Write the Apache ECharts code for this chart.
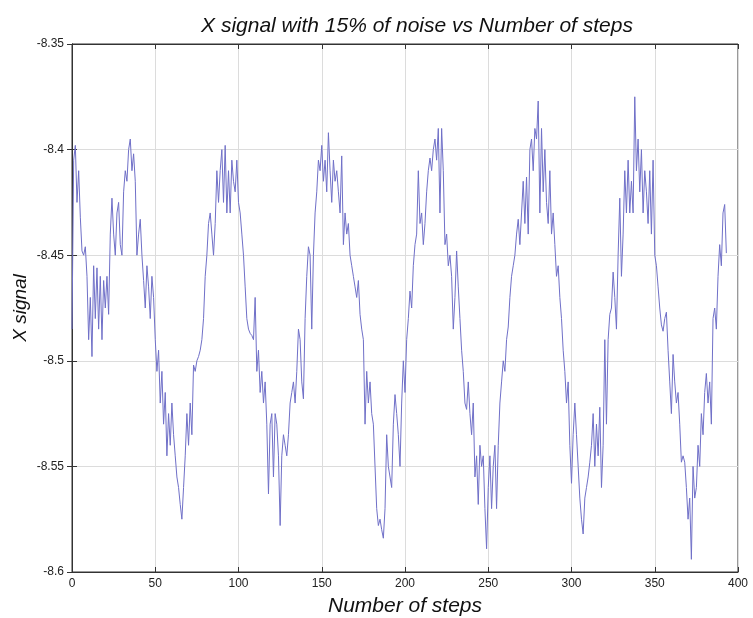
<!DOCTYPE html>
<html lang="en">
  <head>
    <meta charset="UTF-8" />
    <script src="https://cdn.jsdelivr.net/npm/echarts@6/dist/echarts.min.js"></script>
    <style>
      html,
      body {
        margin: 0;
        overflow: hidden;
        background: #fff;
      }
      #viewport {
        position: absolute;
        left: 0px;
        top: 0px;
        width: 753px;
        height: 618px;
      }
    </style>
  </head>
  <body>
    <div id="viewport"></div>
    <script>
      // x signal, one value per step (0..393)
      var xSignal = [
        -8.485, -8.405, -8.398, -8.425, -8.41, -8.432, -8.448, -8.45, -8.446, -8.46,
        -8.49, -8.47, -8.498, -8.455, -8.48, -8.456, -8.485, -8.46, -8.49, -8.462,
        -8.475, -8.46, -8.478, -8.44, -8.423, -8.44, -8.45, -8.43, -8.425, -8.445,
        -8.45, -8.42, -8.41, -8.415, -8.4, -8.395, -8.41, -8.402, -8.415, -8.45,
        -8.44, -8.433, -8.45, -8.462, -8.475, -8.455, -8.465, -8.48, -8.46, -8.47,
        -8.49, -8.505, -8.495, -8.52, -8.505, -8.53, -8.515, -8.545, -8.525, -8.54,
        -8.52, -8.535, -8.545, -8.555, -8.56, -8.568, -8.575, -8.56, -8.545, -8.525,
        -8.54, -8.52, -8.535, -8.502, -8.505, -8.5, -8.498, -8.495, -8.49, -8.48,
        -8.46, -8.45, -8.435, -8.43, -8.44, -8.45, -8.435, -8.41, -8.425, -8.41,
        -8.4, -8.425, -8.398, -8.43, -8.41, -8.43, -8.405, -8.415, -8.42, -8.405,
        -8.425, -8.43, -8.44, -8.45, -8.465, -8.48, -8.485, -8.487, -8.488, -8.49,
        -8.47, -8.505, -8.495, -8.515, -8.505, -8.52, -8.51, -8.53, -8.563, -8.53,
        -8.525, -8.555, -8.525, -8.53, -8.545, -8.578, -8.545, -8.535, -8.54, -8.545,
        -8.535, -8.52, -8.515, -8.51, -8.52, -8.505, -8.485, -8.49, -8.51, -8.518,
        -8.48, -8.46, -8.446, -8.45, -8.485, -8.45, -8.43, -8.42, -8.405, -8.41,
        -8.398, -8.415, -8.405, -8.42, -8.392, -8.41, -8.425, -8.405, -8.415, -8.41,
        -8.42, -8.43, -8.403, -8.445, -8.43, -8.44, -8.435, -8.45, -8.455, -8.46,
        -8.465, -8.47, -8.462, -8.478, -8.485, -8.49, -8.53, -8.505, -8.52, -8.51,
        -8.525, -8.53, -8.55, -8.57, -8.578, -8.575, -8.58, -8.584, -8.57, -8.535,
        -8.55, -8.555, -8.56, -8.53, -8.516, -8.525, -8.535, -8.55, -8.52, -8.5,
        -8.515, -8.49, -8.48, -8.467, -8.475, -8.455, -8.445, -8.44, -8.41, -8.435,
        -8.43, -8.445, -8.435, -8.42, -8.41, -8.404, -8.41, -8.4, -8.395, -8.405,
        -8.39, -8.43, -8.39, -8.41, -8.445, -8.44, -8.455, -8.45, -8.46, -8.485,
        -8.47, -8.448, -8.465, -8.48, -8.495, -8.505, -8.52, -8.523, -8.51, -8.525,
        -8.535, -8.52, -8.555, -8.545, -8.568, -8.54, -8.55, -8.545, -8.57, -8.589,
        -8.56, -8.545, -8.57, -8.55, -8.54, -8.57, -8.54, -8.52, -8.51, -8.5,
        -8.505, -8.49, -8.484, -8.47, -8.46, -8.455, -8.45, -8.44, -8.433, -8.445,
        -8.43, -8.415, -8.435, -8.413, -8.44, -8.4, -8.395, -8.41, -8.39, -8.395,
        -8.377, -8.43, -8.39, -8.42, -8.4, -8.425, -8.435, -8.41, -8.44, -8.43,
        -8.445, -8.46, -8.455, -8.47, -8.48, -8.495, -8.505, -8.52, -8.51, -8.54,
        -8.558, -8.535, -8.52, -8.535, -8.55, -8.565, -8.575, -8.582, -8.565, -8.56,
        -8.555, -8.548, -8.54, -8.525, -8.55, -8.53, -8.545, -8.522, -8.56, -8.54,
        -8.49, -8.53, -8.49, -8.478, -8.475, -8.458, -8.47, -8.485, -8.45, -8.423,
        -8.46, -8.44, -8.41, -8.43, -8.405, -8.43, -8.415, -8.43, -8.375, -8.41,
        -8.395, -8.42, -8.4, -8.43, -8.41, -8.42, -8.435, -8.41, -8.44, -8.405,
        -8.45, -8.455, -8.465, -8.475, -8.483, -8.486, -8.48, -8.477, -8.495, -8.51,
        -8.525, -8.497, -8.51, -8.52, -8.515, -8.53, -8.548, -8.545, -8.548, -8.56,
        -8.575, -8.565, -8.594, -8.55, -8.565, -8.56, -8.54, -8.55, -8.525, -8.535,
        -8.515, -8.506, -8.52, -8.51, -8.53, -8.48, -8.475, -8.485, -8.46, -8.445,
        -8.455, -8.43, -8.426, -8.449
      ];

      var xTicks = [0, 50, 100, 150, 200, 250, 300, 350, 400];
      var yTicks = [-8.6, -8.55, -8.5, -8.45, -8.4, -8.35];

      var seriesData = xSignal.map(function (v, i) {
        return [i, v];
      });

      var font = 'Liberation Sans, Arial, sans-serif';
      var lineColor = '#333';

      var myChart = echarts.init(document.getElementById('viewport'), null, {
        renderer: 'canvas'
      });

      var option = {
        animation: false,
        backgroundColor: '#fff',
        title: {
          text: 'X signal with 15% of noise vs Number of steps',
          left: 412,
          top: 11,
          textAlign: 'center',
          textStyle: {
            fontFamily: font,
            fontStyle: 'italic',
            fontWeight: 'normal',
            fontSize: 21,
            color: '#111'
          }
        },
        grid: {
          left: 72,
          right: 15,
          top: 44,
          bottom: 46,
          outerBoundsMode: 'none',
          containLabel: false,
          show: true,
          borderColor: lineColor,
          borderWidth: 1
        },
        xAxis: [
          {
            type: 'value',
            min: xTicks[0],
            max: xTicks[xTicks.length - 1],
            interval: 50,
            name: 'Number of steps',
            nameLocation: 'middle',
            nameGap: 24,
            nameTextStyle: {
              fontFamily: font,
              fontStyle: 'italic',
              fontSize: 21,
              color: '#111'
            },
            axisLine: { show: true, lineStyle: { color: lineColor } },
            axisTick: { inside: true, length: 5, lineStyle: { color: lineColor } },
            axisLabel: {
              fontFamily: font,
              fontSize: 12,
              color: '#222',
              margin: 6
            },
            splitLine: { show: true, lineStyle: { color: '#dcdcdc', width: 1 } }
          },
          {
            type: 'value',
            position: 'top',
            min: xTicks[0],
            max: xTicks[xTicks.length - 1],
            interval: 50,
            axisLine: { show: true, lineStyle: { color: lineColor } },
            axisTick: { inside: true, length: 5, lineStyle: { color: lineColor } },
            axisLabel: { show: false },
            splitLine: { show: false }
          }
        ],
        yAxis: [
          {
            type: 'value',
            min: yTicks[0],
            max: yTicks[yTicks.length - 1],
            interval: 0.05,
            name: 'X signal',
            nameLocation: 'middle',
            nameGap: 42,
            nameMoveOverlap: false,
            nameTextStyle: {
              fontFamily: font,
              fontStyle: 'italic',
              fontSize: 19,
              color: '#111'
            },
            axisLine: { show: true, lineStyle: { color: lineColor } },
            axisTick: { inside: true, length: 5, lineStyle: { color: lineColor } },
            axisLabel: {
              fontFamily: font,
              fontSize: 12,
              color: '#222',
              margin: 8,
              formatter: function (v) {
                return String(+v.toFixed(2));
              }
            },
            splitLine: { show: true, lineStyle: { color: '#dcdcdc', width: 1 } }
          },
          {
            type: 'value',
            position: 'right',
            min: yTicks[0],
            max: yTicks[yTicks.length - 1],
            interval: 0.05,
            axisLine: { show: true, lineStyle: { color: lineColor } },
            axisTick: { inside: true, length: 5, lineStyle: { color: lineColor } },
            axisLabel: { show: false },
            splitLine: { show: false }
          }
        ],
        series: [
          {
            type: 'line',
            data: seriesData,
            xAxisIndex: 0,
            yAxisIndex: 0,
            showSymbol: false,
            symbol: 'none',
            lineStyle: { color: '#7070c8', width: 1 }
          }
        ]
      };

      myChart.setOption(option);
    </script>
  </body>
</html>
